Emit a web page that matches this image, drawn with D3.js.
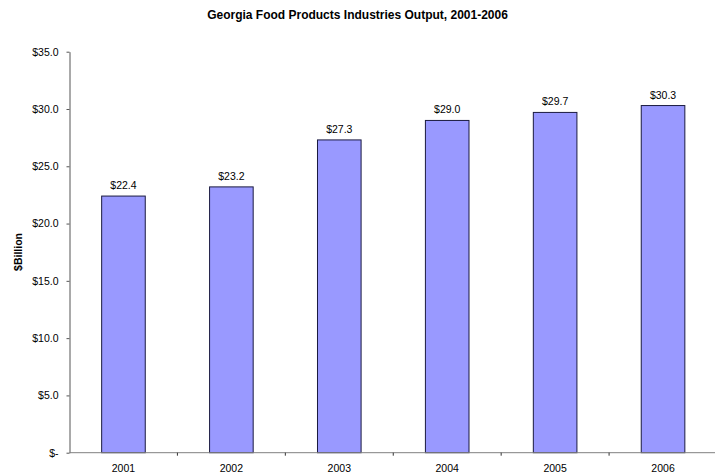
<!DOCTYPE html>
<html><head><meta charset="utf-8">
<script src="https://cdn.jsdelivr.net/npm/d3@7"></script>
<style>body{margin:0;background:#fff}svg{display:block;font-family:"Liberation Sans",Arial,sans-serif}</style>
</head><body>
<svg id="c" width="715" height="474"></svg>
<script>
const years = ["2001","2002","2003","2004","2005","2006"];
const output = [22.4, 23.2, 27.3, 29.0, 29.7, 30.3];
const yTicks = [0,5,10,15,20,25,30,35];
const title = "Georgia Food Products Industries Output, 2001-2006";
const yTitle = "$Billion";

const svg = d3.select("#c");
const mLeft = 69.5, mRight = 717, mTop = 51.7, mBottom = 452.7;
const x = d3.scaleBand().domain(years).range([mLeft, mRight]).paddingInner(0.596).paddingOuter(0.298);
const xb = d3.scaleBand().domain(years).range([mLeft, mRight]);
const y = d3.scaleLinear().domain([0,35]).range([mBottom, mTop]);

svg.append("text").attr("x", 357.5).attr("y", 19).attr("text-anchor","middle")
  .attr("font-weight","bold").attr("font-size","12px").text(title);

// bars
svg.selectAll("rect.bar").data(output).join("rect").attr("class","bar")
  .attr("x",(d,i)=>x(years[i])).attr("width",x.bandwidth())
  .attr("y",d=>y(d)).attr("height",d=>mBottom-y(d))
  .attr("fill","#9999ff").attr("stroke","#1a1a40").attr("stroke-width",1);

svg.selectAll("text.lbl").data(output).join("text").attr("class","lbl")
  .attr("x",(d,i)=>x(years[i])+x.bandwidth()/2).attr("y",d=>y(d)-7)
  .attr("text-anchor","middle").attr("font-size","10.5px").attr("fill","#000")
  .text(d=>"$"+d.toFixed(1));

// y axis
const yAxis = d3.axisLeft(y).tickValues(yTicks).tickSizeInner(3).tickSizeOuter(0)
  .tickPadding(8).tickFormat(d=>d===0?"$-":"$"+d.toFixed(1));
const gy = svg.append("g").attr("transform",`translate(${mLeft},0)`).call(yAxis);
gy.select(".domain").attr("stroke","#555");
gy.selectAll(".tick line").attr("stroke","#555");
gy.selectAll("text").attr("font-size","10.5px").attr("fill","#000").attr("font-family","Liberation Sans, Arial, sans-serif");

// x axis
const gx = svg.append("g").attr("transform",`translate(0,${mBottom})`);
gx.append("line").attr("x1",mLeft).attr("x2",mRight).attr("y1",0).attr("y2",0).attr("stroke","#808080");
gx.selectAll("line.t").data(years.slice(1)).join("line").attr("class","t")
  .attr("x1",d=>xb(d)).attr("x2",d=>xb(d)).attr("y1",0).attr("y2",3).attr("stroke","#333");
gx.selectAll("text").data(years).join("text")
  .attr("x",d=>xb(d)+xb.bandwidth()/2).attr("y",19).attr("text-anchor","middle")
  .attr("font-size","10.5px").text(d=>d);

svg.append("text").attr("transform","translate(22,252) rotate(-90)").attr("text-anchor","middle")
  .attr("font-weight","bold").attr("font-size","10.5px").text(yTitle);
</script>
</body></html>
